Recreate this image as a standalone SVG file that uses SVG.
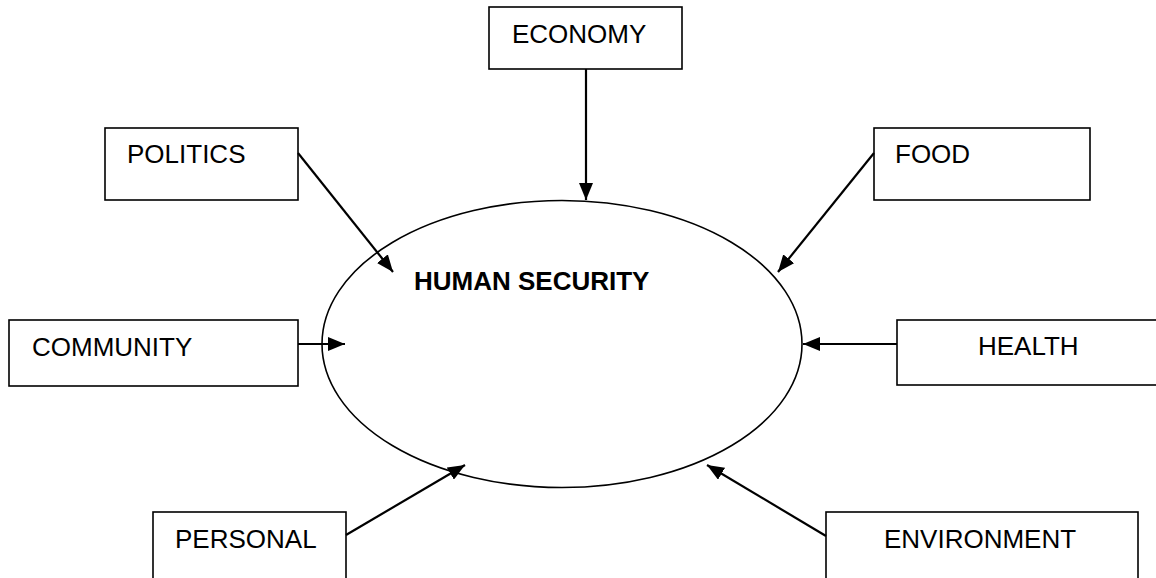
<svg xmlns="http://www.w3.org/2000/svg" width="1156" height="578" viewBox="0 0 1156 578">
<style>
.box{fill:#fff;stroke:#000;stroke-width:1.6}
.lbl{font-family:"Liberation Sans",Arial,sans-serif;font-size:26px;fill:#000}
.conn{stroke:#000;stroke-width:2.2;fill:none;marker-end:url(#ah)}
</style>
<defs>
<marker id="ah" markerUnits="userSpaceOnUse" markerWidth="18" markerHeight="14" refX="17" refY="7" orient="auto">
<path d="M0,0 L17,7 L0,14 z" fill="#000"/>
</marker>
</defs>
<rect width="1156" height="578" fill="#fff"/>
<g id="center">
<ellipse cx="562" cy="344" rx="240" ry="143.5" fill="none" stroke="#000" stroke-width="1.6"/>
<text class="lbl" x="414" y="290" font-weight="bold">HUMAN SECURITY</text>
</g>
<g id="economy"><rect class="box" x="489" y="7" width="193" height="62"/><text class="lbl" x="512" y="43">ECONOMY</text></g>
<g id="politics"><rect class="box" x="105" y="128" width="193" height="72"/><text class="lbl" x="127" y="163">POLITICS</text></g>
<g id="food"><rect class="box" x="874" y="128" width="216" height="72"/><text class="lbl" x="895" y="163">FOOD</text></g>
<g id="community"><rect class="box" x="9" y="320" width="289" height="66"/><text class="lbl" x="32" y="356">COMMUNITY</text></g>
<g id="health"><rect class="box" x="897" y="320" width="262" height="65"/><text class="lbl" x="978" y="355">HEALTH</text></g>
<g id="personal"><rect class="box" x="153" y="512" width="193" height="80"/><text class="lbl" x="175" y="548">PERSONAL</text></g>
<g id="environment"><rect class="box" x="826" y="512" width="312" height="80"/><text class="lbl" x="884" y="548">ENVIRONMENT</text></g>
<g id="connectors">
<line class="conn" x1="586" y1="69" x2="586" y2="200"/>
<line class="conn" x1="298" y1="153" x2="393" y2="272"/>
<line class="conn" x1="874" y1="153" x2="778" y2="272"/>
<line class="conn" x1="298" y1="344" x2="345" y2="344"/>
<line class="conn" x1="897" y1="344" x2="803" y2="344"/>
<line class="conn" x1="346" y1="535" x2="465" y2="465"/>
<line class="conn" x1="826" y1="536" x2="707" y2="465"/>
</g>
</svg>
